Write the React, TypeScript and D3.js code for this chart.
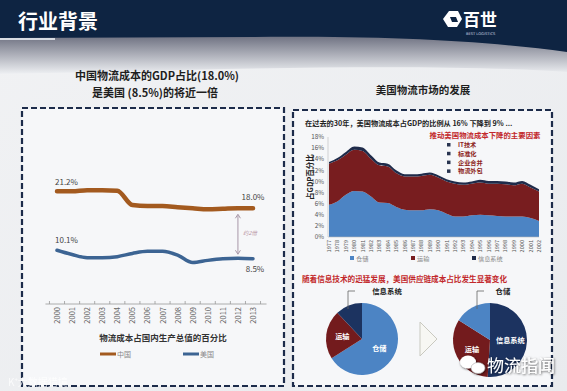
import React from 'react';
import * as d3 from 'd3';

// left chart: logistics cost as % of GDP, China vs US
const cnYears = [2000, 2001, 2002, 2003, 2004, 2005, 2006, 2007, 2008, 2009, 2010, 2011, 2012, 2013];
const chinaShare = [21.2, 21.2, 21.4, 21.4, 21.3, 18.6, 18.4, 18.4, 18.2, 18.0, 17.8, 17.9, 18.0, 18.0];
const usShare = [10.1, 9.3, 8.7, 8.7, 8.9, 9.5, 9.9, 9.9, 9.2, 7.8, 8.2, 8.5, 8.6, 8.5];

// right chart: US logistics cost breakdown (% of GDP)
const usYears = [1977, 1978, 1979, 1980, 1981, 1982, 1983, 1984, 1985, 1986, 1987, 1988, 1989,
  1990, 1991, 1992, 1993, 1994, 1995, 1996, 1997, 1998, 1999, 2000, 2001, 2002];
const warehouse = [5.8, 6.4, 7.6, 8.3, 8.2, 7.3, 6.2, 6.1, 5.4, 4.9, 4.8, 4.8, 5.0, 4.8, 4.2, 3.7, 3.7, 3.9, 4.0, 3.9, 3.8, 3.7, 3.7, 3.7, 3.4, 2.9];
const transport = [7.4, 7.4, 7.2, 7.4, 7.3, 6.8, 6.7, 6.6, 6.1, 6.0, 6.1, 6.2, 6.2, 5.9, 5.8, 5.9, 5.7, 5.7, 5.8, 5.7, 5.8, 5.8, 5.6, 5.9, 5.5, 5.3];
const infoSys = [0.3, 0.4, 0.5, 0.6, 0.6, 0.6, 0.5, 0.5, 0.5, 0.4, 0.4, 0.4, 0.4, 0.4, 0.4, 0.4, 0.4, 0.4, 0.5, 0.5, 0.5, 0.5, 0.5, 0.5, 0.5, 0.4];
const yTicksR = [0, 2, 4, 6, 8, 10, 12, 14, 16, 18];
const factors = ['IT技术', '标准化', '企业合并', '物流外包'];

// pies
const pieBefore = [{ k: '仓储', v: 66 }, { k: '运输', v: 22 }, { k: '信息系统', v: 12 }];
const pieAfter = [{ k: '信息系统', v: 51 }, { k: '运输', v: 33 }, { k: '仓储', v: 16 }];

const FONT = '"Noto Sans CJK SC", "Noto Sans", sans-serif';
const NAVY = '#0e2442';
const colors: Record<string, string> = { '仓储': '#4c84c4', '运输': '#731b1d', '信息系统': '#1c3360' };

function LeftChart() {
  const x = d3.scaleLinear().domain([2000, 2013]).range([57, 253]);
  const y = d3.scaleLinear().domain([0, 25]).range([304, 171]);
  const line = d3.line<number>().x((d, i) => x(cnYears[i])).y(d => y(d)).curve(d3.curveMonotoneX);
  const tickXs = d3.range(cnYears.length + 1).map(i => x(1999.5 + i));
  const ax = x(2012);
  return (
    <g fontFamily={FONT}>
      <path d={line(chinaShare) || ''} fill="none" stroke="#a35a1f" strokeWidth={4.5} strokeLinecap="round" />
      <path d={line(usShare) || ''} fill="none" stroke="#3c6493" strokeWidth={3.5} strokeLinecap="round" />
      <text x={x(2000) - 2} y={y(21.2) - 6} fontSize={8} fill="#444">21.2%</text>
      <text x={x(2000) - 2} y={y(10.1) - 7} fontSize={8} fill="#444">10.1%</text>
      <text x={x(2013)} y={y(18.0) - 8} fontSize={8} fill="#444" textAnchor="middle">18.0%</text>
      <text x={x(2013) + 2} y={y(8.5) + 13} fontSize={8} fill="#444" textAnchor="middle">8.5%</text>
      <g stroke="#a898a8" strokeWidth={1} fill="#a898a8">
        <line x1={ax} x2={ax} y1={y(18.0) + 7} y2={y(8.6) - 5} />
        <path d={`M${ax - 2.5},${y(18.0) + 10}L${ax},${y(18.0) + 6}L${ax + 2.5},${y(18.0) + 10}`} fill="none" />
        <path d={`M${ax - 2.5},${y(8.6) - 8}L${ax},${y(8.6) - 4}L${ax + 2.5},${y(8.6) - 8}`} fill="none" />
      </g>
      <text x={ax + 5} y={(y(18.0) + y(8.6)) / 2 + 2} fontSize={5.5} fill="#b7909f" fontStyle="italic">约2倍</text>
      <line x1={x(1999.5) - 4} x2={x(2013.5) + 6} y1={304} y2={304} stroke="#999" strokeWidth={0.8} />
      {tickXs.map((t, i) => (
        <line key={i} x1={t} x2={t} y1={301} y2={304} stroke="#999" strokeWidth={0.8} />
      ))}
      {cnYears.map(yr => (
        <text key={yr} transform={`translate(${x(yr) + 3},${307}) rotate(-90)`} fontSize={7.5} fill="#666" textAnchor="end">{yr}</text>
      ))}
      <text x={163} y={341} fontSize={8.5} fontWeight="bold" fill="#333" textAnchor="middle">物流成本占国内生产总值的百分比</text>
      <line x1={100} x2={116} y1={354} y2={354} stroke="#a35a1f" strokeWidth={3} />
      <text x={117} y={357} fontSize={7} fill="#888">中国</text>
      <line x1={183} x2={199} y1={354} y2={354} stroke="#3c6493" strokeWidth={3} />
      <text x={200} y={357} fontSize={7} fill="#888">美国</text>
    </g>
  );
}

function RightChart() {
  const x = d3.scaleLinear().domain([1977, 2002]).range([329, 539]);
  const y = d3.scaleLinear().domain([0, 18]).range([237, 137]);
  const rows = usYears.map((yr, i) => ({ yr, wh: warehouse[i], tr: transport[i], info: infoSys[i] }));
  const series = d3.stack<any>().keys(['wh', 'tr', 'info'])(rows);
  const fills = [colors['仓储'], '#781d1f', '#1f2b4a'];
  const area = d3.area<any>().x(d => x(d.data.yr)).y0(d => y(d[0])).y1(d => y(d[1])).curve(d3.curveMonotoneX);
  return (
    <g fontFamily={FONT}>
      <text x={305} y={126} fontSize={7.2} fontWeight="bold" fill="#222">在过去的30年，美国物流成本占GDP的比例从 16% 下降到 9% ...</text>
      {series.map((s, i) => <path key={s.key} d={area(s) || ''} fill={fills[i]} />)}
      <line x1={x(1977) - 1} x2={x(1977) - 1} y1={y(0)} y2={y(18)} stroke="#bbb" strokeWidth={0.6} />
      <line x1={x(1977) - 1} x2={x(2002)} y1={y(0)} y2={y(0)} stroke="#bbb" strokeWidth={0.6} />
      {yTicksR.map(t => (
        <text key={t} x={324} y={y(t) + 2.2} fontSize={6.3} fill="#555" textAnchor="end">{t}%</text>
      ))}
      {usYears.map(yr => (
        <text key={yr} transform={`translate(${x(yr) + 2},${240}) rotate(-90)`} fontSize={5.6} fill="#555" textAnchor="end">{yr}</text>
      ))}
      <text transform={`translate(${313},${177}) rotate(-90)`} fontSize={7.5} fontWeight="bold" fill="#222" textAnchor="middle">占GDP百分比</text>
      <text x={485} y={138} fontSize={7.4} fill="#c2282b" textAnchor="middle" fontWeight="bold">推动美国物流成本下降的主要因素</text>
      {factors.map((f, i) => (
        <g key={f}>
          <rect x={447} y={143 + i * 8.8} width={3.5} height={3.5} fill="#283450" />
          <text x={458} y={147 + i * 8.8} fontSize={6.2} fill="#8d1f22" fontWeight="bold">{f}</text>
        </g>
      ))}
      {['仓储', '运输', '信息系统'].map((k, i) => (
        <g key={k}>
          <rect x={350 + i * 61} y={256} width={4} height={4} fill={fills[i]} />
          <text x={356 + i * 61} y={261} fontSize={6.2} fill="#888">{k}</text>
        </g>
      ))}
      <text x={302} y={282} fontSize={7.6} fill="#c2282b" fontWeight="bold">随着信息技术的迅猛发展，美国供应链成本占比发生显著变化</text>
    </g>
  );
}

function Pie({ data, cx, cy, r, outside, lead }: { data: { k: string; v: number }[]; cx: number; cy: number; r: number; outside: string; lead: [number, number] }) {
  const arcs = d3.pie<{ k: string; v: number }>().value(d => d.v).sort(null)(data);
  const arc = d3.arc<any>().innerRadius(0).outerRadius(r);
  const lab = d3.arc<any>().innerRadius(r * 0.55).outerRadius(r * 0.55);
  return (
    <g transform={`translate(${cx},${cy})`} fontFamily={FONT}>
      {arcs.map(a => <path key={a.data.k} d={arc(a) || ''} fill={colors[a.data.k]} />)}
      {arcs.filter(a => a.data.k !== outside).map(a => {
        const [lx, ly] = lab.centroid(a);
        return <text key={a.data.k} x={lx} y={ly + 2.5} fontSize={7.2} fill="#fff" fontWeight="bold" textAnchor="middle">{a.data.k}</text>;
      })}
      <path d={`M${lead[0]},${-r + 6}V${-r - 12}H${lead[0] + 7}`} fill="none" stroke="#666" strokeWidth={0.8} />
      <text x={lead[1]} y={-r - 9} fontSize={7.4} fontWeight="bold" fill="#222" textAnchor="middle">{outside}</text>
    </g>
  );
}

export default function App() {
  return (
    <svg width={567} height={391} style={{ position: 'fixed', left: 0, top: 0 }}>
      <defs>
        <linearGradient id="swoosh" x1="0" y1="0" x2="0" y2="1">
          <stop offset="0" stopColor="#6e7181" />
          <stop offset="1" stopColor="#eef0f3" />
        </linearGradient>
        <linearGradient id="bg" x1="0" y1="0" x2="1" y2="1">
          <stop offset="0" stopColor="#f1f2f4" />
          <stop offset="1" stopColor="#e9ebee" />
        </linearGradient>
        <filter id="shadow" x="-10%" y="-30%" width="120%" height="160%">
          <feDropShadow dx="0.6" dy="0.8" stdDeviation="0.8" floodColor="#000" floodOpacity="0.7" />
        </filter>
      </defs>
      <rect width={567} height={391} fill="url(#bg)" />
      <path d="M0,36 L567,36 L567,72 C420,62 200,70 0,74 Z" fill="url(#swoosh)" />
      <path d="M0,0 H567 V52 C480,40 380,36 250,37 L0,38 Z" fill={NAVY} />
      <rect x={0} y={38} width={55} height={2} fill="#d8dce2" />
      <text x={18} y={29} fontFamily={FONT} fontSize={20} fontWeight="bold" fill="#fff">行业背景</text>
      <g transform="translate(452,19)">
        <path d="M-9,0 L-3,-8 L6,-8 L10,0 L5,8 L-4,8 Z" fill="#fff" />
        <path d="M-2,-2 L4,-2 L6,3 L0,3 Z" fill={NAVY} />
      </g>
      <text x={463} y={26} fontFamily={FONT} fontSize={17} fontWeight="bold" fill="#fff">百世</text>
      <text x={466} y={35} fontFamily="DejaVu Sans" fontSize={3.6} fill="#cfd6e0">BEST LOGISTICS</text>

      <g fontFamily={FONT} fontWeight="bold" fill="#1e1e1e" textAnchor="middle">
        <text x={157} y={80} fontSize={11}>中国物流成本的GDP占比(18.0%)</text>
        <text x={155} y={97} fontSize={11}>是美国 (8.5%)的将近一倍</text>
        <text x={423} y={94} fontSize={10.5}>美国物流市场的发展</text>
      </g>

      <rect x={22} y={108} width={262} height={278} fill="#f6f7f9" stroke="#1c2b4a" strokeWidth={2.2} strokeDasharray="6 3" />
      <rect x={293} y={110} width={259} height={276} fill="#f6f7f9" stroke="#1c2b4a" strokeWidth={2.2} strokeDasharray="6 3" />

      <LeftChart />
      <RightChart />
      <Pie data={pieBefore} cx={362} cy={339} r={36} outside="信息系统" lead={[-14, 25]} />
      <path d="M420,322 L437,339 L420,356 Z" fill="#f7f7f3" stroke="#c9c9c0" strokeWidth={1} />
      <Pie data={pieAfter} cx={490} cy={340} r={37} outside="仓储" lead={[-13, 13]} />

      <g filter="url(#shadow)">
        <ellipse cx={468} cy={362} rx={8} ry={6.5} fill="#fff" />
        <ellipse cx={478} cy={368} rx={7} ry={5.5} fill="#fff" stroke="#999" strokeWidth={0.5} />
        <text x={487} y={372} fontFamily={FONT} fontSize={17} fill="#fff">物流指闻</text>
      </g>
      <text x={8} y={386} fontFamily={FONT} fontSize={10} fill="#fff" opacity={0.75}>K⁺大数据猎境</text>
    </svg>
  );
}
